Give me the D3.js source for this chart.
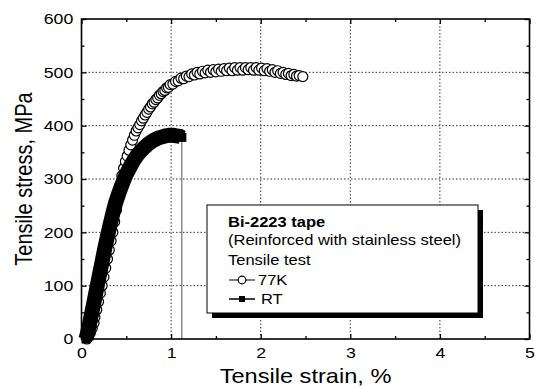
<!DOCTYPE html>
<html>
<head>
<meta charset="utf-8">
<script src="https://cdn.jsdelivr.net/npm/d3@7"></script>
<style>
  html, body { margin: 0; padding: 0; background: #fff; }
  svg { display: block; font-family: "Liberation Sans", Arial, sans-serif; }
</style>
</head>
<body>
<svg id="chart" width="537" height="389"></svg>
<script>
// ---- data ----
const xTicks = [0, 1, 2, 3, 4, 5];
const yTicks = [0, 100, 200, 300, 400, 500, 600];
const xMinorTicks = [0.5, 1.5, 2.5, 3.5, 4.5];
const yMinorTicks = [50, 150, 250, 350, 450, 550];

const strain77K = [0.06,0.08,0.10,0.12,0.14,0.15,0.17,0.19,0.21,0.23,0.25,0.27,0.29,0.31,0.33,0.35,0.37,0.39,0.41,0.43,0.45,0.47,0.49,0.51,0.53,0.55,0.57,0.59,0.61,0.63,0.65,0.67,0.69,0.71,0.73,0.75,0.77,0.79,0.81,0.83,0.85,0.87,0.89,0.91,0.93,0.95,0.97,0.99,1.02,1.05,1.08,1.11,1.14,1.17,1.20,1.23,1.26,1.29,1.32,1.35,1.38,1.41,1.44,1.47,1.50,1.53,1.56,1.59,1.62,1.65,1.68,1.71,1.74,1.77,1.80,1.83,1.86,1.89,1.92,1.95,1.98,2.01,2.04,2.07,2.10,2.13,2.16,2.19,2.22,2.25,2.28,2.31,2.34,2.37,2.40,2.43,2.47];
const stress77K = [0,6,12,20,30,41,55,70,86,100,116,133,150,167,184,200,220,242,265,288,306,320,333,343,354,364,373,382,390,396,402,409,414,420,425,431,435,441,444,449,452,457,460,464,466,471,472,477,478,483,484,489,488,493,492,497,495,500,497,502,499,504,500,505,501,506,502,507,503,508,503,509,504,509,504,509,505,509,504,509,504,508,503,507,502,505,500,503,498,500,496,498,494,496,493,494,492];

const strainRT = [0.05,0.08,0.11,0.14,0.17,0.20,0.23,0.26,0.29,0.32,0.35,0.38,0.41,0.44,0.47,0.50,0.54,0.58,0.62,0.66,0.70,0.74,0.78,0.82,0.86,0.90,0.94,0.98,1.02,1.06,1.10,1.12];
const stressRT = [0,20,45,70,95,120,145,170,193,215,236,255,270,284,297,309,322,334,344,352,359,365,370,374,377,379,381,382,382,381,380,378];

const breakStrain = [1.12, 1.12];
const breakStress = [378, 0];

const legendLines = ["Bi-2223 tape", "(Reinforced with stainless steel)", "Tensile test"];
const seriesNames = ["77K", "RT"];

// ---- layout ----
const svg = d3.select("#chart");
const M = { left: 81.5, top: 19, right: 529.5, bottom: 339 };
const x = d3.scaleLinear().domain([0, 5]).range([M.left, M.right]);
const y = d3.scaleLinear().domain([0, 600]).range([M.bottom, M.top]);
const SX = 1.18; // horizontal text stretch seen in the reference
const FONT = "Liberation Sans, Arial, sans-serif";

// grid
const grid = svg.append("g").attr("stroke", "#333").attr("stroke-width", 1).attr("stroke-dasharray", "1.5,2");
grid.selectAll(".gx").data(xTicks.slice(1, -1)).join("line")
  .attr("x1", d => x(d)).attr("x2", d => x(d)).attr("y1", M.top).attr("y2", M.bottom);
grid.selectAll(".gy").data(yTicks.slice(1, -1)).join("line")
  .attr("y1", d => y(d)).attr("y2", d => y(d)).attr("x1", M.left).attr("x2", M.right);

// axes with inward ticks
function styleAxis(g) {
  g.select(".domain").remove();
  g.selectAll(".tick line").attr("stroke", "#000").attr("stroke-width", 1.3);
}
const fs = 15;
svg.append("g").attr("transform", `translate(0,${M.bottom})`)
  .call(d3.axisBottom(x).tickValues(xTicks).tickSize(-5).tickPadding(8).tickFormat(d3.format("d")))
  .call(styleAxis)
  .call(g => g.selectAll("text").attr("font-size", fs).attr("fill", "#000").attr("font-family", FONT)
    .attr("transform", `scale(${SX},1)`));
svg.append("g").attr("transform", `translate(0,${M.bottom})`)
  .call(d3.axisBottom(x).tickValues(xMinorTicks).tickSize(-3).tickFormat(""))
  .call(styleAxis);
svg.append("g").attr("transform", `translate(0,${M.top})`)
  .call(d3.axisTop(x).tickValues(xTicks).tickSize(-5).tickFormat(""))
  .call(styleAxis);
svg.append("g").attr("transform", `translate(0,${M.top})`)
  .call(d3.axisTop(x).tickValues(xMinorTicks).tickSize(-3).tickFormat(""))
  .call(styleAxis);
svg.append("g").attr("transform", `translate(${M.left},0)`)
  .call(d3.axisLeft(y).tickValues(yTicks).tickSize(-5).tickPadding(7).tickFormat(d3.format("d")))
  .call(styleAxis)
  .call(g => g.selectAll("text").attr("font-size", fs).attr("fill", "#000").attr("font-family", FONT)
    .attr("transform", `scale(${SX},1)`));
svg.append("g").attr("transform", `translate(${M.left},0)`)
  .call(d3.axisLeft(y).tickValues(yMinorTicks).tickSize(-3).tickFormat(""))
  .call(styleAxis);
svg.append("g").attr("transform", `translate(${M.right},0)`)
  .call(d3.axisRight(y).tickValues(yTicks).tickSize(-5).tickFormat(""))
  .call(styleAxis);
svg.append("g").attr("transform", `translate(${M.right},0)`)
  .call(d3.axisRight(y).tickValues(yMinorTicks).tickSize(-3).tickFormat(""))
  .call(styleAxis);

// data
const d77 = strain77K.map((s, i) => [s, stress77K[i]]);
const dRT = strainRT.map((s, i) => [s, stressRT[i]]);
const dBreak = breakStrain.map((s, i) => [s, breakStress[i]]);
const line = d3.line().x(d => x(d[0])).y(d => y(d[1]));

// 77K hollow circles
svg.append("g").selectAll("circle").data(d77).join("circle")
  .attr("cx", d => x(d[0])).attr("cy", d => y(d[1])).attr("r", 5)
  .attr("fill", "#fff").attr("stroke", "#000").attr("stroke-width", 1.2);

// RT break line
svg.append("path").datum(dBreak).attr("d", line)
  .attr("fill", "none").attr("stroke", "#555").attr("stroke-width", 1);

// RT filled squares (dense band)
svg.append("path").datum(dRT).attr("d", line)
  .attr("fill", "none").attr("stroke", "#000").attr("stroke-width", 15).attr("stroke-linejoin", "round");
const sq = 9;
svg.append("g").selectAll("rect").data(dRT).join("rect")
  .attr("x", d => x(d[0]) - sq / 2).attr("y", d => y(d[1]) - sq / 2)
  .attr("width", sq).attr("height", sq).attr("fill", "#000");

// frame
svg.append("rect").attr("x", M.left).attr("y", M.top)
  .attr("width", M.right - M.left).attr("height", M.bottom - M.top)
  .attr("fill", "none").attr("stroke", "#000").attr("stroke-width", 1.6);

// axis titles
svg.append("text").attr("transform", `translate(${(M.left + M.right) / 2},383) scale(${SX},1)`)
  .attr("text-anchor", "middle").attr("font-size", 20).text("Tensile strain, %");
svg.append("text").attr("transform", `translate(32,${(M.top + M.bottom) / 2}) rotate(-90) scale(1,${SX})`)
  .attr("text-anchor", "middle").attr("font-size", 20).text("Tensile stress, MPa");

// legend
const L = { x: 207, y: 205, w: 271, h: 108 };
svg.append("rect").attr("x", L.x + 5).attr("y", L.y + 5).attr("width", L.w).attr("height", L.h).attr("fill", "#000");
svg.append("rect").attr("x", L.x).attr("y", L.y).attr("width", L.w).attr("height", L.h)
  .attr("fill", "#fff").attr("stroke", "#000").attr("stroke-width", 1);
const baselines = [227, 245, 265, 285, 304];
const lg = svg.append("g").attr("font-size", 14).attr("fill", "#000");
function ltext(t, tx, ty, bold) {
  lg.append("text").attr("transform", `translate(${tx},${ty}) scale(${SX},1)`)
    .attr("font-weight", bold ? "bold" : "normal").text(t);
}
legendLines.forEach((t, i) => ltext(t, 228, baselines[i], i === 0));
// 77K entry
lg.append("line").attr("x1", 229).attr("x2", 255).attr("y1", baselines[3] - 5).attr("y2", baselines[3] - 5)
  .attr("stroke", "#000").attr("stroke-width", 1);
lg.append("circle").attr("cx", 242).attr("cy", baselines[3] - 5).attr("r", 3.8)
  .attr("fill", "#fff").attr("stroke", "#000").attr("stroke-width", 1.2);
ltext(seriesNames[0], 258, baselines[3], false);
// RT entry
lg.append("line").attr("x1", 229).attr("x2", 255).attr("y1", baselines[4] - 5).attr("y2", baselines[4] - 5)
  .attr("stroke", "#000").attr("stroke-width", 1.5);
lg.append("rect").attr("x", 239).attr("y", baselines[4] - 8).attr("width", 6).attr("height", 6).attr("fill", "#000");
ltext(seriesNames[1], 261, baselines[4], false);
</script>
</body>
</html>
